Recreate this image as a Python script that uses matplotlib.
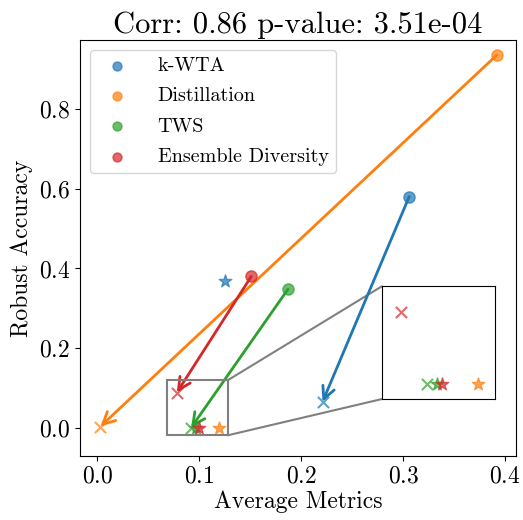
import numpy as np
import matplotlib
matplotlib.use("Agg")
from matplotlib import pyplot as plt
from matplotlib.patches import ConnectionPatch, Rectangle

plt.rcParams['font.family'] = 'serif'
plt.rcParams['font.serif'] = ['cmr10']
plt.rcParams['mathtext.fontset'] = 'cm'
plt.rcParams['axes.formatter.use_mathtext'] = True

methods = ['k-WTA', 'Distillation', 'TWS', 'Ensemble Diversity']
colors = ['tab:blue', 'tab:orange', 'tab:green', 'tab:red']

# (average metric, robust accuracy)
start_x = [0.306, 0.392, 0.187, 0.151]
start_y = [0.580, 0.935, 0.348, 0.380]
cross_x = [0.221, 0.003, 0.092, 0.078]
cross_y = [0.066, 0.004, 0.001, 0.089]
star_x = [0.125, 0.119, 0.097, 0.100]
star_y = [0.368, 0.001, 0.001, 0.001]

zoom_xlim = (0.068, 0.128)
zoom_ylim = (-0.018, 0.12)

fig = plt.figure(figsize=(5.23, 5.2), dpi=100)
ax = fig.add_axes([0.153, 0.123, 0.834, 0.800])


def draw(a, legend):
    for i in range(len(methods)):
        a.scatter(start_x[i], start_y[i], s=65, color=colors[i], alpha=0.7,
                  label=methods[i] if legend else None, zorder=3)
        a.scatter(cross_x[i], cross_y[i], s=65, marker='x', color=colors[i],
                  alpha=0.7, zorder=3)
        a.scatter(star_x[i], star_y[i], s=90, marker='*', color=colors[i],
                  alpha=0.7, zorder=3)


draw(ax, True)
for i in range(len(methods)):
    ax.annotate('', xy=(cross_x[i], cross_y[i]), xytext=(start_x[i], start_y[i]),
                arrowprops=dict(arrowstyle='->', color=colors[i], lw=2,
                                mutation_scale=22, shrinkA=0, shrinkB=0),
                zorder=2)

ax.set_xlim(-0.017, 0.411)
ax.set_ylim(-0.07, 0.9725)
ax.set_xticks([0.0, 0.1, 0.2, 0.3, 0.4])
ax.set_yticks([0.0, 0.2, 0.4, 0.6, 0.8])
ax.tick_params(labelsize=17)
ax.set_xlabel('Average Metrics', fontsize=17, labelpad=2)
ax.set_ylabel('Robust Accuracy', fontsize=17)
ax.set_title('Corr: 0.86 p-value: 3.51e-04', fontsize=22, pad=5)
ax.legend(loc='upper left', fontsize=14.5, borderpad=0.35, labelspacing=0.6,
          handletextpad=1.0, borderaxespad=0.5, markerscale=0.8)

axins = ax.inset_axes([0.692, 0.137, 0.26, 0.271])
draw(axins, False)
axins.set_xlim(*zoom_xlim)
axins.set_ylim(*zoom_ylim)
axins.set_xticks([])
axins.set_yticks([])

rect = Rectangle((zoom_xlim[0], zoom_ylim[0]), zoom_xlim[1] - zoom_xlim[0],
                 zoom_ylim[1] - zoom_ylim[0], fill=False, edgecolor='gray',
                 lw=1.5, zorder=4)
ax.add_patch(rect)
for (rx, ry), (ix, iy) in [((zoom_xlim[1], zoom_ylim[1]), (0, 1)),
                           ((zoom_xlim[1], zoom_ylim[0]), (0, 0))]:
    con = ConnectionPatch(xyA=(rx, ry), coordsA=ax.transData,
                          xyB=(ix, iy), coordsB=axins.transAxes,
                          color='gray', lw=1.5)
    ax.add_artist(con)

fig.savefig('out.png', dpi=100)
